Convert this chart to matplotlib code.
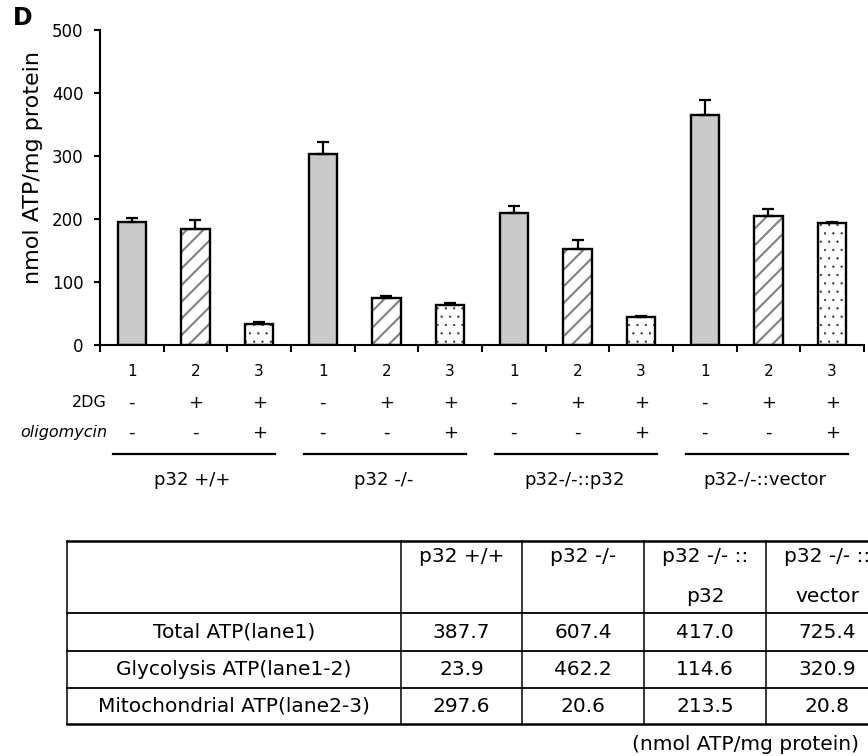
import matplotlib.pyplot as plt
import matplotlib.transforms as mtransforms
import numpy as np

# bar data (nmol ATP/mg protein)
lanes = ['1', '2', '3', '1', '2', '3', '1', '2', '3', '1', '2', '3']
atp = [195, 184, 34, 303, 74, 63, 209, 152, 45, 365, 205, 193]
atp_err = [6, 14, 2, 20, 3, 3, 11, 14, 1.5, 24, 11, 3]
dg = ['-', '+', '+', '-', '+', '+', '-', '+', '+', '-', '+', '+']
oligo = ['-', '-', '+', '-', '-', '+', '-', '-', '+', '-', '-', '+']
groups = ['p32 +/+', 'p32 -/-', 'p32-/-::p32', 'p32-/-::vector']

# table data
col_head_top = ['p32 +/+', 'p32 -/-', 'p32 -/- ::', 'p32 -/- ::']
col_head_bot = ['', '', 'p32', 'vector']
row_names = ['Total ATP(lane1)', 'Glycolysis ATP(lane1-2)', 'Mitochondrial ATP(lane2-3)']
table_vals = [['387.7', '607.4', '417.0', '725.4'],
              ['23.9', '462.2', '114.6', '320.9'],
              ['297.6', '20.6', '213.5', '20.8']]

W, H = 868, 756
fig = plt.figure(figsize=(W / 100, H / 100), dpi=100)

def fx(px):
    return px / W

def fy(py):
    return 1 - py / H

ax = fig.add_axes([fx(100), fy(345), fx(764), 315 / H])
x = np.arange(len(atp))
vals = np.array(atp)
errs = np.array(atp_err)
kind = np.array([int(l) for l in lanes])
bw = 0.45

m1 = kind == 1
m2 = kind == 2
m3 = kind == 3
ax.bar(x[m1], vals[m1], bw, color='#cacaca', linewidth=0, zorder=2)
with plt.rc_context({'hatch.linewidth': 1.5}):
    ax.bar(x[m2], vals[m2], bw, color='white', edgecolor='#808080', hatch='//', linewidth=0, zorder=2)
with plt.rc_context({'hatch.linewidth': 0.4}):
    ax.bar(x[m3], vals[m3], bw, color='white', edgecolor='#333333', hatch='..', linewidth=0, zorder=2)
ax.bar(x, vals, bw, fill=False, edgecolor='black', linewidth=1.7, zorder=3)
ax.errorbar(x, vals, yerr=[np.zeros_like(errs), errs], fmt='none', ecolor='black',
            elinewidth=1.6, capsize=4.4, capthick=1.6, zorder=4)

ax.set_xlim(-0.5, len(atp) - 0.5)
ax.set_ylim(0, 500)
ax.set_yticks([0, 100, 200, 300, 400, 500])
ax.set_xticks(np.arange(-0.5, len(atp), 1.0))
ax.set_xticklabels([])
ax.spines['top'].set_visible(False)
ax.spines['right'].set_visible(False)
ax.spines['left'].set_linewidth(1.5)
ax.spines['bottom'].set_linewidth(1.5)
ax.tick_params(axis='y', direction='out', length=4, width=1.5, pad=8, labelsize=12)
ax.tick_params(axis='x', direction='out', length=5, width=1.5)

fig.text(fx(13), fy(6), 'D', fontsize=17, fontweight='bold', ha='left', va='top')
fig.text(fx(33), fy(168), 'nmol ATP/mg protein', fontsize=16, rotation=90,
         ha='center', va='center')

tr = mtransforms.blended_transform_factory(ax.transData, fig.transFigure)
for i in range(len(atp)):
    ax.text(x[i], fy(372), lanes[i], transform=tr, ha='center', va='center', fontsize=11)
    ax.text(x[i], fy(403), dg[i], transform=tr, ha='center', va='center', fontsize=13)
    ax.text(x[i], fy(433), oligo[i], transform=tr, ha='center', va='center', fontsize=13)
fig.text(fx(107), fy(403), '2DG', ha='right', va='center', fontsize=11.5)
fig.text(fx(107), fy(433), 'oligomycin', ha='right', va='center', fontsize=11.5, style='italic')

for g, name in enumerate(groups):
    first = 3 * g
    ax.plot([first - 0.3, first + 2.25], [fy(454), fy(454)], transform=tr,
            color='black', linewidth=1.6, clip_on=False)
    ax.text(first + 0.95, fy(480), name, transform=tr, ha='center', va='center', fontsize=13)

# table drawn in pixel coordinates
tx = fig.add_axes([0, 0, 1, 1])
tx.set_xlim(0, W)
tx.set_ylim(H, 0)
tx.axis('off')
col_edges = [67, 401, 522, 644, 766, 888]
row_edges = [541, 613, 651, 688, 724]
for k, yy in enumerate(row_edges):
    lw = 1.8 if k in (0, len(row_edges) - 1) else 1.3
    tx.plot([col_edges[0], col_edges[-1]], [yy, yy], color='black', linewidth=lw)
for xx in col_edges[:-1]:
    tx.plot([xx, xx], [row_edges[0], row_edges[-1]], color='black', linewidth=1.1)

fs = 14.5
for j in range(len(col_head_top)):
    cx = (col_edges[j + 1] + col_edges[j + 2]) / 2
    tx.text(cx, 557, col_head_top[j], ha='center', va='center', fontsize=fs)
    tx.text(cx, 597, col_head_bot[j], ha='center', va='center', fontsize=fs)
for i, name in enumerate(row_names):
    cy = (row_edges[i + 1] + row_edges[i + 2]) / 2
    tx.text((col_edges[0] + col_edges[1]) / 2, cy, name, ha='center', va='center', fontsize=fs)
    for j, v in enumerate(table_vals[i]):
        cx = (col_edges[j + 1] + col_edges[j + 2]) / 2
        tx.text(cx, cy, v, ha='center', va='center', fontsize=fs)
tx.text(632, 745, '(nmol ATP/mg protein)', ha='left', va='center', fontsize=fs)

fig.savefig('out.png', dpi=100)
